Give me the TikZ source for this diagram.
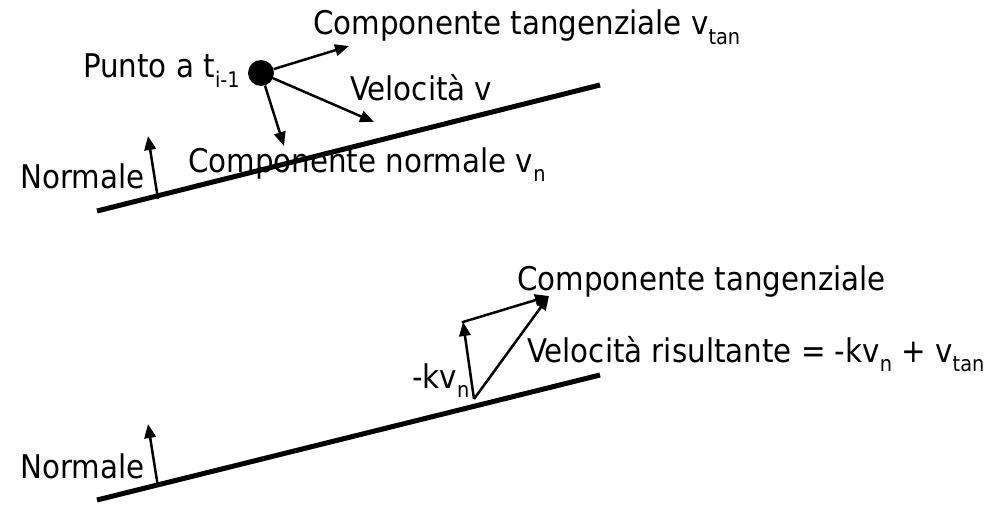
\documentclass[tikz,border=0pt]{standalone}
\usepackage{fontspec}
\setmainfont{DejaVu Sans Condensed}
\usetikzlibrary{arrows.meta}
\newcommand{\sbs}[1]{\raisebox{-0.28em}{\fontsize{21.5}{21.5}\selectfont #1}}
\begin{document}
\begin{tikzpicture}[x=1pt,y=-1pt,
  surf/.style={line width=5pt},
  vec/.style={line width=2.5pt,-{Triangle[length=14pt,width=11.5pt]}},
  lbl/.style={anchor=base west,inner sep=0pt,font=\fontsize{32.6}{36}\selectfont}]
\useasboundingbox (0,0) rectangle (996,524);
% top panel
\coordinate (a1) at (97,211);
\coordinate (b1) at (600,85);
\draw[surf] (a1) -- (b1);
\coordinate (n1b) at (158,199);
\coordinate (n1t) at (148,136);
\draw[vec] (n1b) -- (n1t);
\node[lbl] (norm1) at (20,188) {Normale};
\node[circle,fill=black,minimum size=26pt,inner sep=0pt] (dot) at (261,73) {};
\coordinate (vt) at (349,46);
\coordinate (vv) at (374,122);
\coordinate (vn) at (284,146);
\draw[vec] (dot) -- (vt);
\draw[vec] (dot) -- (vv);
\draw[vec] (dot) -- (vn);
\node[lbl] (punto) at (83,78) {Punto a t\sbs{i-1}};
\node[lbl] (ctan) at (313,35) {Componente tangenziale v\sbs{tan}};
\node[lbl] (vel) at (350,101) {Velocità v};
\node[lbl] (cnorm) at (188,172) {Componente normale v\sbs{n}};
% bottom panel
\coordinate (a2) at (97,500);
\coordinate (b2) at (600,375);
\draw[surf] (a2) -- (b2);
\coordinate (n2b) at (158,487);
\coordinate (n2t) at (148,424);
\draw[vec] (n2b) -- (n2t);
\node[lbl] (norm2) at (20,478) {Normale};
\coordinate (p0) at (474,399);
\coordinate (p1) at (463,322);
\coordinate (p2) at (549,296);
\draw[vec] (p0) -- (p1);
\draw[vec, shorten <=-1.2pt] (p1) -- (p2);
\draw[vec] (p0) -- (p2);
\node[lbl] (kvn) at (412,388) {-kv\sbs{n}};
\node[lbl] (ris) at (527,362) {Velocità risultante = -kv\sbs{n} + v\sbs{tan}};
\node[lbl] (ctan2) at (517,290) {Componente tangenziale};
\end{tikzpicture}
\end{document}
